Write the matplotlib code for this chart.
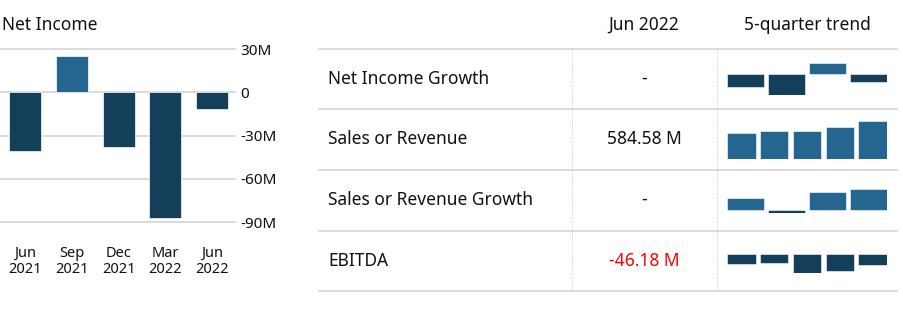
"""Net income bars plus a small financial table with 5-quarter sparklines."""

import matplotlib

matplotlib.use("Agg")

import matplotlib.pyplot as plt
from matplotlib.lines import Line2D

W, H = 904, 328

DARK = "#133f5b"
LIGHT = "#24668f"
GRID = "#d6d6d6"
TEXT = "#111111"
RED = "#ff0000"

plt.rcParams["font.family"] = ["Noto Sans", "DejaVu Sans"]

# Net income per quarter, millions
QUARTERS = ["Jun\n2021", "Sep\n2021", "Dec\n2021", "Mar\n2022", "Jun\n2022"]
NET_INCOME = [-40.6, 25.6, -38.1, -87.1, -11.5]
NI_TICKS = [30, 0, -30, -60, -90]
NI_TICK_LABELS = ["30M", "0", "-30M", "-60M", "-90M"]

# Table
ROW_LABELS = ["Net Income Growth", "Sales or Revenue", "Sales or Revenue Growth", "EBITDA"]
ROW_VALUES = ["-", "584.58 M", "-", "-46.18 M"]
HEADERS = ["Jun 2022", "5-quarter trend"]

# 5-quarter trends
NI_GROWTH_TREND = [-12.2, -19.8, 9.9, -7.2]
SALES_TREND = [403.0, 434.0, 434.0, 496.0, 584.58]
SALES_GROWTH_TREND = [5.5, -1.2, 8.0, 9.6]
EBITDA_TREND = [-44.8, -37.2, -82.0, -73.1, -46.18]


def fx(px):
    return px / W


def fy(py):
    return 1 - py / H


def add_px_axes(fig, x0, x1, y_top, y_bot):
    return fig.add_axes([fx(x0), fy(y_bot), fx(x1) - fx(x0), fy(y_top) - fy(y_bot)])


def colors_for(values):
    return [LIGHT if v >= 0 else DARK for v in values]


def sparkline(fig, values, y_top, y_bot):
    ax = add_px_axes(fig, 727, 887, y_top, y_bot)
    n = len(values)
    xs = range(n)
    width = 0.89 if n == 4 else 0.87
    ax.bar(xs, values, width=width, color=colors_for(values),
           edgecolor="white", linewidth=0.4)
    ax.set_xlim(-width / 2, n - 1 + width / 2)
    lo, hi = min(min(values), 0), max(max(values), 0)
    ax.set_ylim(lo, hi)
    ax.axis("off")
    return ax


def main():
    fig = plt.figure(figsize=(W / 100, H / 100), dpi=100)
    fig.patch.set_facecolor("white")

    # Left: net income bar chart
    ax = add_px_axes(fig, 0, 235, 49.3, 222)
    xs = range(len(NET_INCOME))
    ax.bar(xs, NET_INCOME, width=0.685, color=colors_for(NET_INCOME),
           edgecolor="white", linewidth=0.5, zorder=3)
    ax.set_xlim(-0.535, 4.49)
    ax.set_ylim(-90, 30)
    ax.set_yticks(NI_TICKS)
    ax.set_yticklabels(NI_TICK_LABELS)
    ax.yaxis.tick_right()
    ax.set_xticks(list(xs))
    ax.set_xticklabels(QUARTERS, linespacing=1.15)
    ax.tick_params(axis="y", length=0, pad=4, labelsize=11, labelcolor=TEXT)
    ax.tick_params(axis="x", length=0, pad=17, labelsize=10.5, labelcolor=TEXT)
    ax.grid(axis="y", color=GRID, linewidth=1.2, zorder=0)
    for spine in ax.spines.values():
        spine.set_visible(False)
    for gl in ax.get_ygridlines():
        gl.set_clip_on(False)

    fig.text(fx(2), fy(25), "Net Income", ha="left", va="center",
             fontsize=12.5, color=TEXT)

    # Right: table
    fig.text(fx(644), fy(25), HEADERS[0], ha="center", va="center",
             fontsize=12.5, color=TEXT)
    fig.text(fx(807), fy(25), HEADERS[1], ha="center", va="center",
             fontsize=12.5, color=TEXT)

    row_lines = [49.3, 109.3, 170.3, 231, 291]
    for y in row_lines:
        fig.add_artist(Line2D([fx(319), fx(897)], [fy(y), fy(y)],
                              color=GRID, linewidth=1.2))
    for x in (571.7, 716.7):
        fig.add_artist(Line2D([fx(x), fx(x)], [fy(49.3), fy(291)],
                              color="#c8c8c8", linewidth=0.7, linestyle=(0, (1, 1.5))))

    row_centers = [79, 139, 200, 261]
    for label, value, y in zip(ROW_LABELS, ROW_VALUES, row_centers):
        fig.text(fx(328), fy(y), label, ha="left", va="center",
                 fontsize=12.5, color=TEXT)
        color = RED if value.startswith("-") and len(value) > 1 else TEXT
        fig.text(fx(644), fy(y), value, ha="center", va="center",
                 fontsize=12.5, color=color)

    sparkline(fig, NI_GROWTH_TREND, 63, 95.3)
    sparkline(fig, SALES_TREND, 121.3, 159)
    sparkline(fig, SALES_GROWTH_TREND, 188.7, 212.7)
    sparkline(fig, EBITDA_TREND, 254.3, 272.7)

    fig.savefig("out.png", dpi=100, facecolor=fig.get_facecolor())
    plt.close(fig)


if __name__ == "__main__":
    main()
